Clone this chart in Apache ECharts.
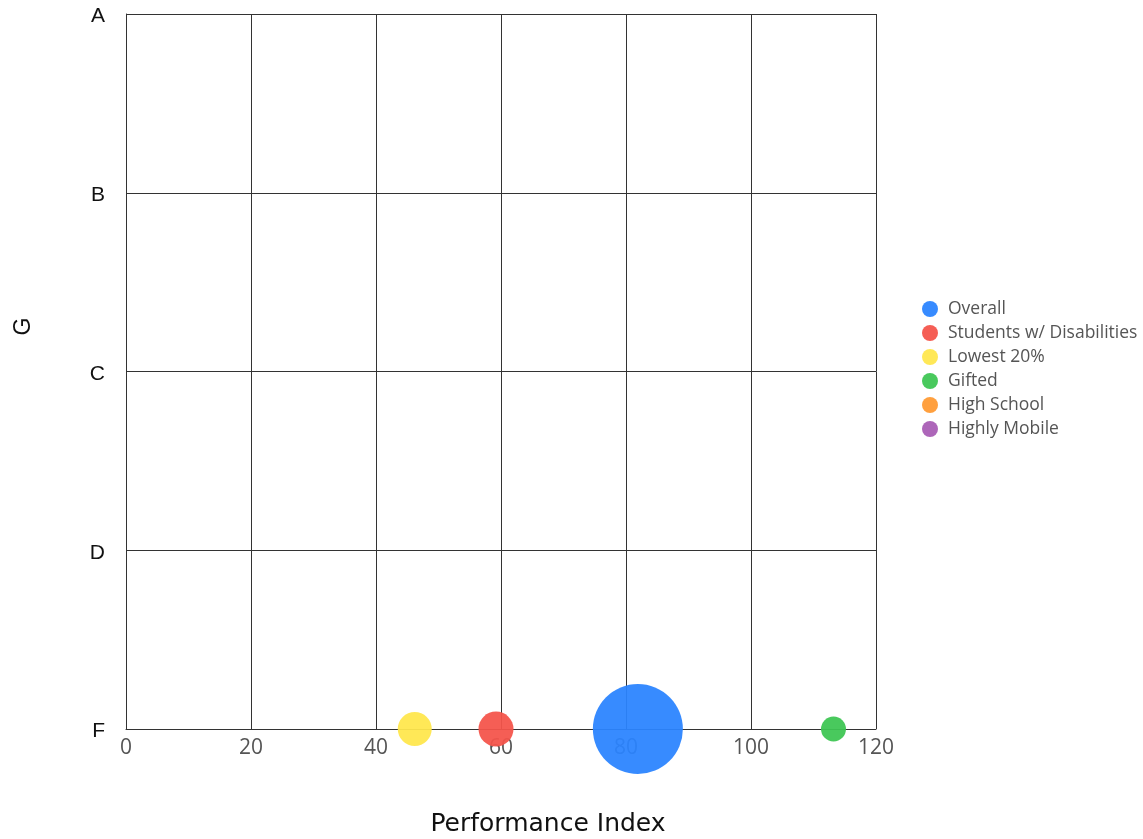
<!DOCTYPE html>
<html><head><meta charset="utf-8">
<script src="https://cdn.jsdelivr.net/npm/echarts@6/dist/echarts.min.js"></script>
<style>html,body{margin:0;padding:0;background:#fff}#c{width:1143px;height:839px}</style>
</head><body><div id="c"></div>
<script>
const gradeLabels = ['F', 'D', 'C', 'B', 'A'];
const xTicks = [0, 20, 40, 60, 80, 100, 120];
const seriesNames = ['Overall', 'Students w/ Disabilities', 'Lowest 20%', 'Gifted', 'High School', 'Highly Mobile'];
const perfIndex = [81.9, 59.2, 46.2, 113.2, null, null];
const grades = ['F', 'F', 'F', 'F', null, null];
const bubbleSize = [90, 35, 34, 25, null, null];
const colors = ['#2a84ff', '#f4544a', '#ffe74c', '#3ec653', '#ff9a33', '#a85cb5'];

const series = seriesNames.map((n, i) => ({
  name: n,
  type: 'scatter',
  data: perfIndex[i] == null ? [] : [[perfIndex[i], grades[i], bubbleSize[i]]],
  symbolSize: d => d[2],
  itemStyle: { color: colors[i], opacity: 0.94 }
}));

const chart = echarts.init(document.getElementById('c'));
chart.setOption({
  animation: false,
  color: colors,
  grid: { left: 126, right: 267, top: 14, bottom: 110, outerBoundsMode: 'none', containLabel: false },
  legend: {
    orient: 'vertical', left: 917, top: 295,
    itemGap: 6, itemWidth: 16, itemHeight: 16, icon: 'circle',
    textStyle: { fontSize: 17.5, lineHeight: 18, color: '#555', fontFamily: 'Open Sans', padding: [0, 0, 0, 5] },
    data: seriesNames
  },
  xAxis: {
    type: 'value', min: xTicks[0], max: xTicks[xTicks.length - 1], interval: 20,
    name: 'Performance Index', nameLocation: 'middle', nameGap: 83,
    nameTextStyle: { fontSize: 25, color: '#111', fontFamily: 'DejaVu Sans', padding: [0, 0, 0, 94] },
    axisLine: { show: true, lineStyle: { color: '#333' } },
    axisTick: { show: false },
    axisLabel: { fontSize: 21, color: '#555', margin: 9, fontFamily: 'Open Sans' },
    splitLine: { show: true, lineStyle: { color: '#333', width: 1 } }
  },
  yAxis: {
    type: 'category', data: gradeLabels, boundaryGap: false,
    name: 'G', nameLocation: 'middle', nameGap: 91, nameRotate: 90,
    nameTextStyle: { fontSize: 23, color: '#111', fontFamily: 'Liberation Sans', padding: [0, 0, 0, 90] },
    axisLine: { show: true, lineStyle: { color: '#333' } },
    axisTick: { show: false },
    axisLabel: { fontSize: 21, color: '#111', margin: 21, fontFamily: 'Liberation Sans', verticalAlign: 'top', lineHeight: 5 },
    splitLine: { show: true, lineStyle: { color: '#333', width: 1 } }
  },
  series: series
});
</script></body></html>
